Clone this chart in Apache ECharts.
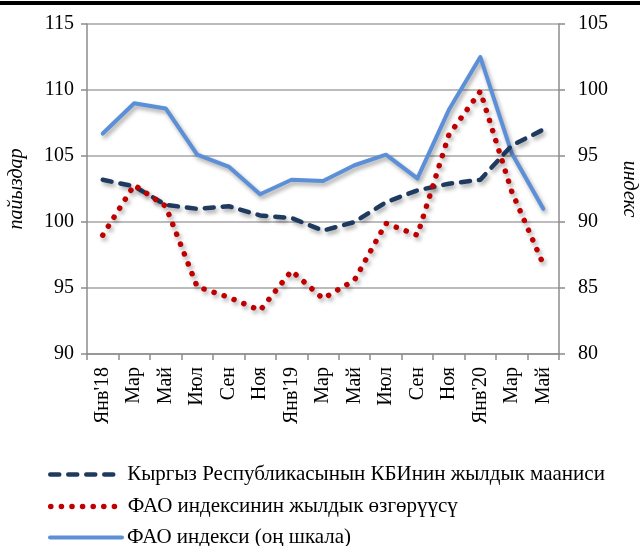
<!DOCTYPE html>
<html>
<head>
<meta charset="utf-8">
<script src="https://cdn.jsdelivr.net/npm/echarts@6/dist/echarts.min.js"></script>
<style>
  html, body { margin: 0; padding: 0; background: #fff; }
  #chart { width: 640px; height: 546px; }
</style>
</head>
<body>
<div id="chart"></div>
<script>
// Month labels (every second month, Jan 2018 – May 2020)
const months = ["Янв'18", "Мар", "Май", "Июл", "Сен", "Ноя", "Янв'19", "Мар", "Май", "Июл", "Сен", "Ноя", "Янв'20", "Мар", "Май"];

// Kyrgyz Republic CPI, year-on-year (%), left axis
const cpiKg = [103.2, 102.7, 101.3, 101.0, 101.2, 100.5, 100.3, 99.35, 100.0, 101.5, 102.4, 102.9, 103.2, 105.8, 107.0];

// FAO food price index, year-on-year change (%), left axis
const faoChange = [99.0, 102.8, 101.2, 95.1, 94.3, 93.3, 96.3, 94.2, 95.6, 99.9, 99.0, 106.6, 109.9, 102.3, 96.8];

// FAO food price index level, right axis
const faoIndex = [96.7, 99.0, 98.6, 95.1, 94.2, 92.1, 93.2, 93.1, 94.3, 95.1, 93.3, 98.5, 102.5, 95.2, 91.0];

const seriesNames = [
  'Кыргыз Республикасынын КБИнин жылдык мааниси',
  'ФАО индексинин жылдык өзгөрүүсү',
  'ФАО индекси (оң шкала)'
];

const leftTicks = { min: 90, max: 115, interval: 5 };
const rightTicks = { min: 80, max: 105, interval: 5 };

const serif = '"Liberation Serif", "DejaVu Serif", serif';
const axisGray = '#8c8c8c';
const gridGray = '#a6a6a6';
const shadow = { shadowColor: 'rgba(0,0,0,0.35)', shadowBlur: 4, shadowOffsetX: 2, shadowOffsetY: 3 };

const lineStyles = [
  { color: '#1f3a5f', width: 4.5, type: [9, 9], cap: 'round', join: 'round' },
  { color: '#c00000', width: 5.5, type: [0.1, 10.5], cap: 'round', join: 'round' },
  { color: '#5b8fd7', width: 4, type: 'solid', cap: 'round', join: 'round' }
];

// one legend block per row, stacked under the plot
const legendTops = [459, 491, 522];
const legends = seriesNames.map((name, i) => ({
  data: [name],
  orient: 'vertical',
  left: 43,
  top: legendTops[i],
  itemWidth: 72,
  itemHeight: 14,
  itemGap: 0,
  itemStyle: { opacity: 0 },
  lineStyle: { width: lineStyles[i].width, type: lineStyles[i].type, cap: lineStyles[i].cap, color: lineStyles[i].color },
  textStyle: { fontFamily: serif, fontSize: 21, color: '#000' }
}));

const chart = echarts.init(document.getElementById('chart'), null, { renderer: 'canvas' });

chart.setOption({
  animation: false,
  backgroundColor: '#ffffff',
  textStyle: { fontFamily: serif },
  graphic: [
    { type: 'rect', left: 0, top: 1, shape: { width: 640, height: 4 }, style: { fill: '#000' } }
  ],
  grid: { left: 87, right: 81, top: 24, bottom: 192, outerBoundsMode: 'none' },
  legend: legends,
  xAxis: {
    type: 'category',
    data: months,
    boundaryGap: true,
    axisLine: { lineStyle: { color: axisGray, width: 1.5 } },
    axisTick: { show: true, length: 6, lineStyle: { color: axisGray, width: 1.5 } },
    axisLabel: {
      interval: 0,
      rotate: 90,
      color: '#000',
      fontFamily: serif,
      fontSize: 20,
      margin: 13
    }
  },
  yAxis: [
    {
      type: 'value',
      position: 'left',
      min: leftTicks.min,
      max: leftTicks.max,
      interval: leftTicks.interval,
      name: 'пайыздар',
      nameLocation: 'middle',
      nameGap: 60,
      nameTextStyle: { fontFamily: serif, fontSize: 20, fontStyle: 'italic', color: '#000' },
      axisLine: { show: true, lineStyle: { color: axisGray, width: 1.5 } },
      axisTick: { show: true, length: 6, lineStyle: { color: axisGray, width: 1.5 } },
      axisLabel: { color: '#000', fontFamily: serif, fontSize: 20, margin: 13 },
      splitLine: { show: true, lineStyle: { color: gridGray, width: 1.5 } }
    },
    {
      type: 'value',
      position: 'right',
      min: rightTicks.min,
      max: rightTicks.max,
      interval: rightTicks.interval,
      name: 'индекс',
      nameLocation: 'middle',
      nameRotate: -90,
      nameGap: 60,
      nameTextStyle: { fontFamily: serif, fontSize: 20, fontStyle: 'italic', color: '#000' },
      axisLine: { show: true, lineStyle: { color: axisGray, width: 1.5 } },
      axisTick: { show: true, length: 6, lineStyle: { color: axisGray, width: 1.5 } },
      axisLabel: { color: '#000', fontFamily: serif, fontSize: 20, margin: 19 },
      splitLine: { show: false }
    }
  ],
  series: [
    {
      name: seriesNames[0],
      type: 'line',
      yAxisIndex: 0,
      data: cpiKg,
      symbol: 'none',
      color: lineStyles[0].color,
      lineStyle: Object.assign({}, lineStyles[0], shadow),
      z: 3
    },
    {
      name: seriesNames[1],
      type: 'line',
      yAxisIndex: 0,
      data: faoChange,
      symbol: 'none',
      color: lineStyles[1].color,
      lineStyle: Object.assign({}, lineStyles[1], shadow),
      z: 4
    },
    {
      name: seriesNames[2],
      type: 'line',
      yAxisIndex: 1,
      data: faoIndex,
      symbol: 'none',
      color: lineStyles[2].color,
      lineStyle: Object.assign({}, lineStyles[2], shadow),
      z: 2
    }
  ]
});
</script>
</body>
</html>
